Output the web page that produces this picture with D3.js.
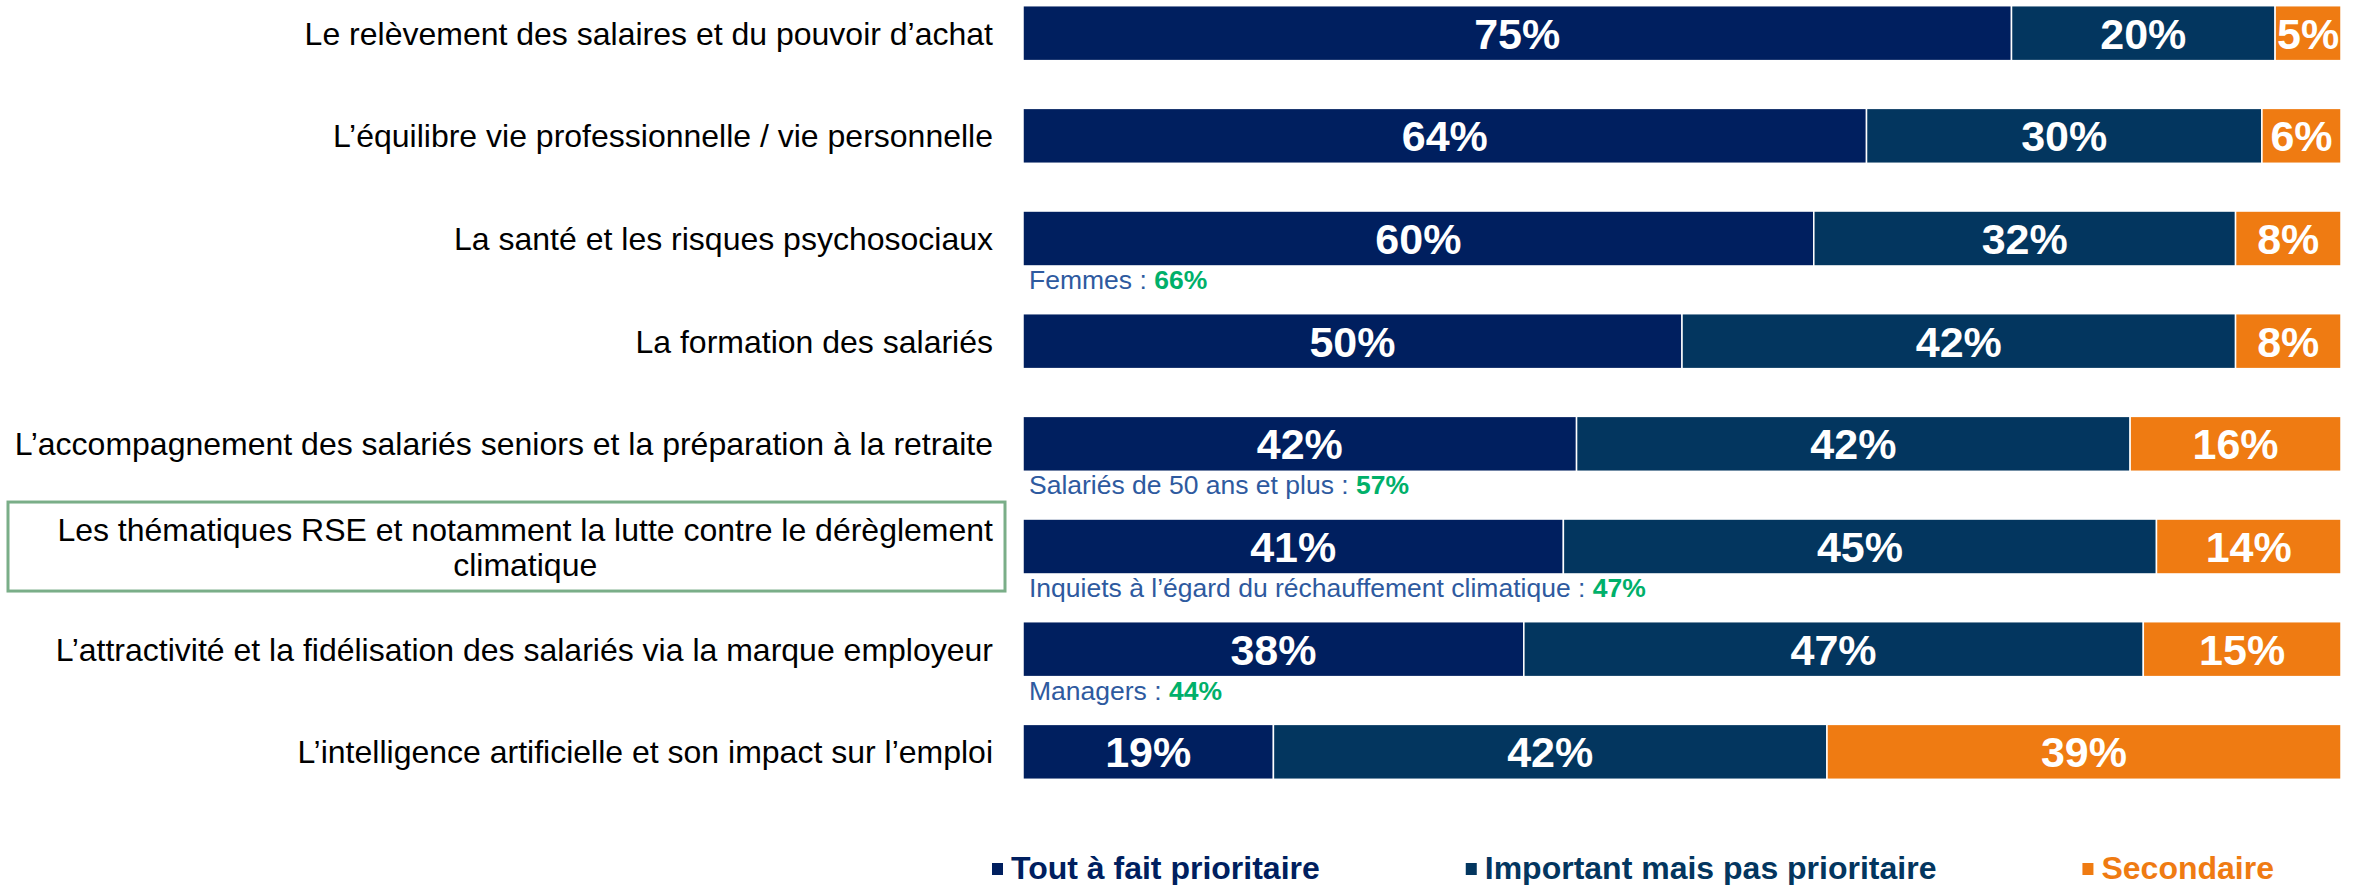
<!DOCTYPE html>
<html>
<head>
<meta charset="utf-8">
<script src="https://cdn.jsdelivr.net/npm/d3@7"></script>
<style>
  body { margin: 0; background: #fff; }
  svg { display: block; font-family: Arial, "Liberation Sans", sans-serif; }
</style>
</head>
<body>
<svg width="2366" height="885"></svg>
<script>
const categories = [
    "Le relèvement des salaires et du pouvoir d’achat",
    "L’équilibre vie professionnelle / vie personnelle",
    "La santé et les risques psychosociaux",
    "La formation des salariés",
    "L’accompagnement des salariés seniors et la préparation à la retraite",
    "Les thématiques RSE et notamment la lutte contre le dérèglement climatique",
    "L’attractivité et la fidélisation des salariés via la marque employeur",
    "L’intelligence artificielle et son impact sur l’emploi"
];
const series = ["Tout à fait prioritaire", "Important mais pas prioritaire", "Secondaire"];
const toutAFait = [75, 64, 60, 50, 42, 41, 38, 19];
const important = [20, 30, 32, 42, 42, 45, 47, 42];
const secondaire = [5, 6, 8, 8, 16, 14, 15, 39];

// sous-groupes affichés sous certaines barres
const noteCats = [categories[2], categories[4], categories[5], categories[6]];
const noteTexts = ["Femmes : ", "Salariés de 50 ans et plus : ", "Inquiets à l’égard du réchauffement climatique : ", "Managers : "];
const noteValues = [66, 57, 47, 44];

const colors = ["#001f5f", "#03365f", "#ef7b12"];

const svg = d3.select("svg");

const rows = categories.map((c, i) => ({
    cat: c,
    [series[0]]: toutAFait[i],
    [series[1]]: important[i],
    [series[2]]: secondaire[i]
}));

const stacked = d3.stack().keys(series)(rows);

const x = d3.scaleLinear().domain([0, 100]).range([1023, 2341]);
const y = d3.scaleBand().domain(categories).range([5.7, 779.3]).paddingInner(0.465);
const color = d3.scaleOrdinal().domain(series).range(colors);

const layers = svg.append("g").selectAll("g")
    .data(stacked)
    .enter().append("g")
        .attr("fill", d => color(d.key));

layers.selectAll("rect")
    .data(d => d)
    .enter().append("rect")
        .attr("x", d => x(d[0]))
        .attr("y", d => y(d.data.cat))
        .attr("width", d => x(d[1]) - x(d[0]))
        .attr("height", y.bandwidth())
        .attr("stroke", "#fff")
        .attr("stroke-width", 1.5);

layers.selectAll("text")
    .data(d => d)
    .enter().append("text")
        .attr("x", d => (x(d[0]) + x(d[1])) / 2)
        .attr("y", d => y(d.data.cat) + y.bandwidth() / 2)
        .attr("dy", "0.36em")
        .attr("text-anchor", "middle")
        .attr("fill", "#fff")
        .attr("font-weight", "bold")
        .attr("font-size", 43)
        .text(d => (d[1] - d[0]) + "%");

// libellés des catégories
const labelX = 993;
const labels = svg.append("g").selectAll("text")
    .data(categories)
    .enter().append("text")
        .attr("font-size", 32)
        .attr("fill", "#000");

labels.each(function(d, i) {
    const t = d3.select(this);
    const cy = y(d) + y.bandwidth() / 2;
    if (i === 5) {
        const line1 = "Les thématiques RSE et notamment la lutte contre le dérèglement";
        const a = t.append("tspan").attr("x", labelX).attr("y", cy - 17.5).attr("dy", "0.36em")
            .attr("text-anchor", "end").text(line1);
        const w = a.node().getComputedTextLength();
        t.append("tspan").attr("x", labelX - w / 2).attr("y", cy + 17.5).attr("dy", "0.36em")
            .attr("text-anchor", "middle").text("climatique");
        // cadre vert autour du libellé RSE
        svg.append("rect")
            .attr("x", 8)
            .attr("y", y(d) - 17)
            .attr("width", 997)
            .attr("height", 89)
            .attr("fill", "none")
            .attr("stroke", "#7aae88")
            .attr("stroke-width", 3);
    } else {
        t.attr("x", labelX).attr("y", cy).attr("dy", "0.36em")
            .attr("text-anchor", "end").text(d);
    }
});

// notes sous les barres
const notes = svg.append("g").selectAll("text")
    .data(noteCats)
    .enter().append("text")
        .attr("x", x(0) + 6)
        .attr("y", d => y(d) + y.bandwidth() + 23)
        .attr("font-size", 26.5);

notes.append("tspan")
    .attr("fill", "#2e5a9f")
    .text((d, i) => noteTexts[i]);
notes.append("tspan")
    .attr("fill", "#00b06a")
    .attr("font-weight", "bold")
    .text((d, i) => noteValues[i] + "%");

// légende
const legend = svg.append("g");
let lx = 992;
series.forEach((s, i) => {
    legend.append("rect")
        .attr("x", lx)
        .attr("y", 863)
        .attr("width", 11)
        .attr("height", 12)
        .attr("fill", color(s));
    const t = legend.append("text")
        .attr("x", lx + 19)
        .attr("y", 879)
        .attr("font-size", 32)
        .attr("font-weight", "bold")
        .attr("fill", color(s))
        .text(s);
    lx += 19 + t.node().getComputedTextLength() + 146;
});
</script>
</body>
</html>
